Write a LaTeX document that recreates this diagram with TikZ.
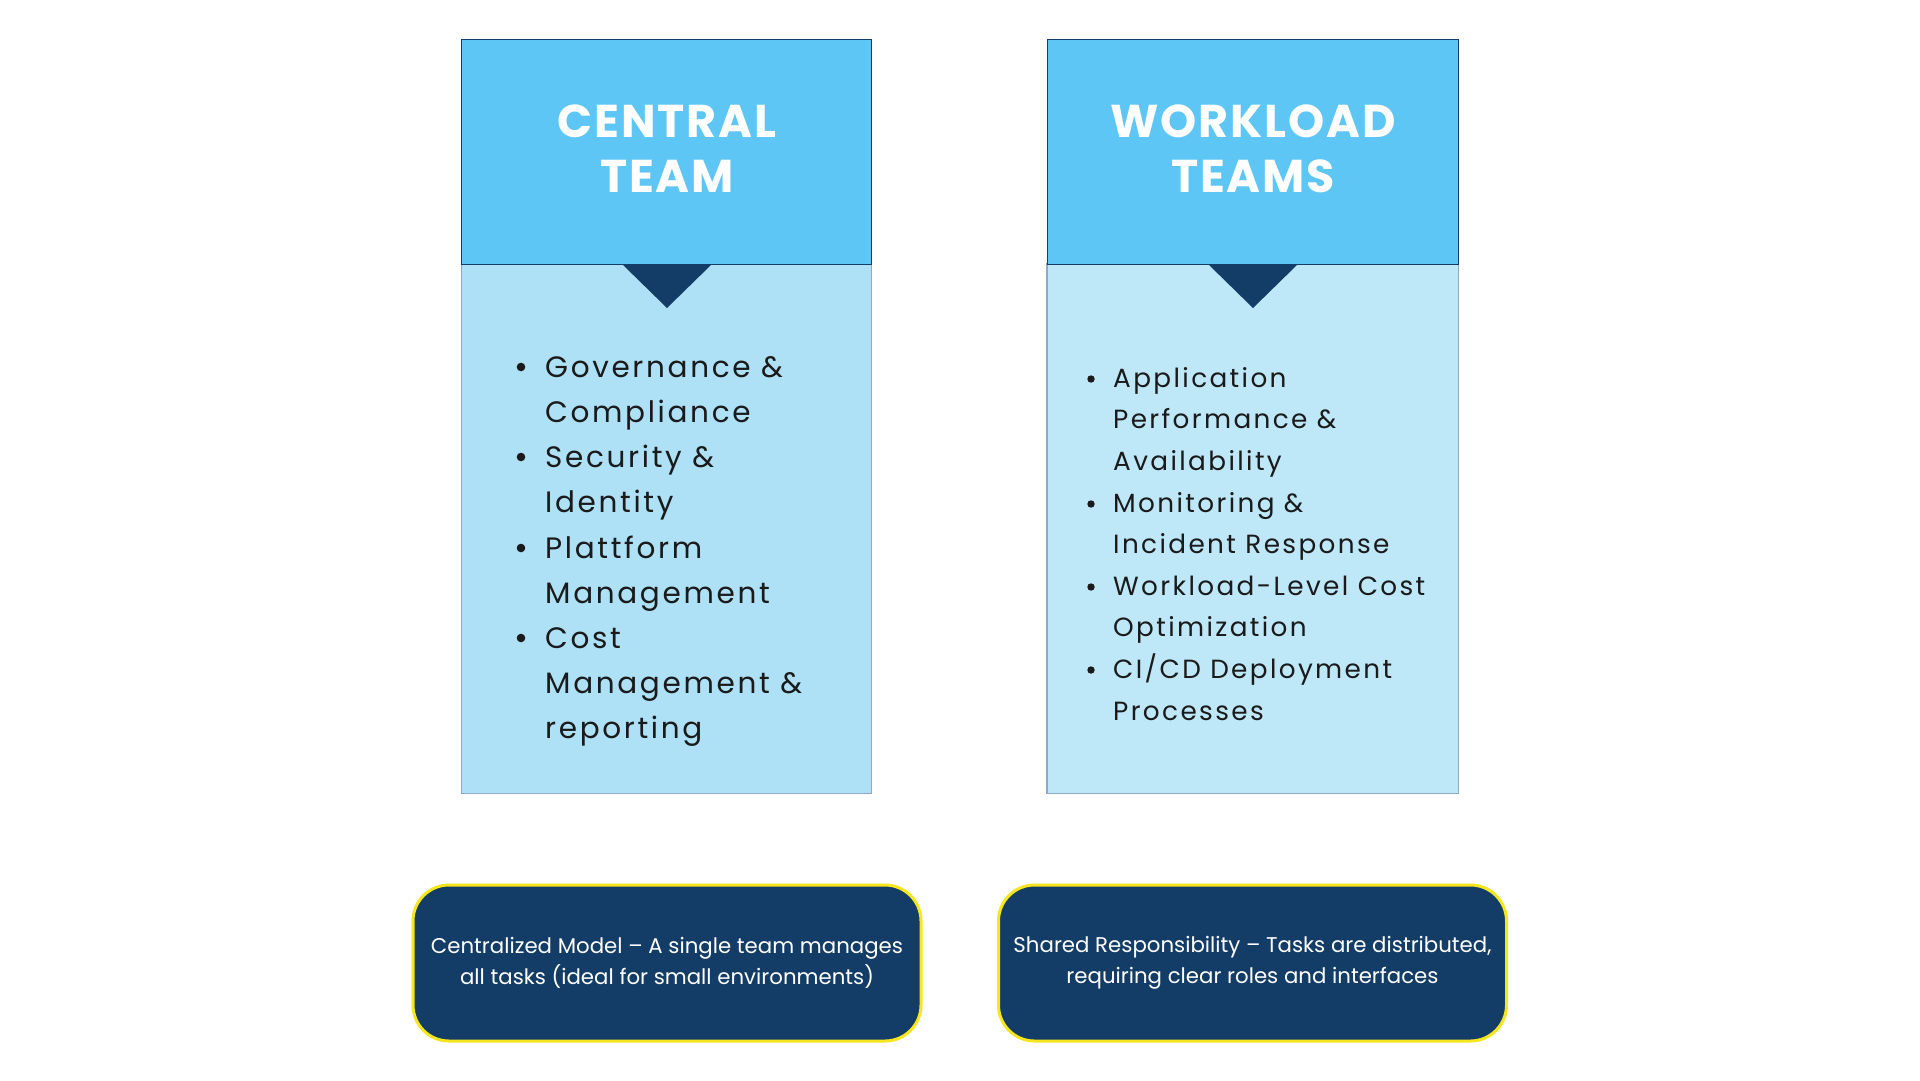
\documentclass[tikz,border=0pt]{standalone}
\usepackage{fontspec}
\setmainfont{Poppins}
\newfontfamily\headfont{Poppins}[LetterSpace=4]
\newfontfamily\bodyfont{Poppins}[LetterSpace=9]
\newfontfamily\notefont{Poppins}
\definecolor{headblue}{HTML}{5EC6F4}
\definecolor{bodyleft}{HTML}{AEE1F6}
\definecolor{bodyright}{HTML}{BEE7F8}
\definecolor{navy}{HTML}{133C66}
\definecolor{bodyedge}{HTML}{8FAAC6}
\definecolor{noteedge}{HTML}{F7E51E}
\definecolor{ink}{HTML}{1A1A1A}
\begin{document}
\begin{tikzpicture}[x=1pt,y=-1pt,
  header/.style={fill=headblue,draw=navy,line width=1pt},
  body/.style={draw=bodyedge,line width=1.2pt},
  tri/.style={fill=navy},
  headtxt/.style={anchor=base,inner sep=0pt,text=white,font=\headfont\bfseries\fontsize{46}{50}\selectfont},
  lline/.style={anchor=base west,inner sep=0pt,text=ink,font=\bodyfont\fontsize{29.5}{34}\selectfont},
  rline/.style={anchor=base west,inner sep=0pt,text=ink,font=\bodyfont\fontsize{26.3}{30}\selectfont},
  lbul/.style={circle,fill=ink,inner sep=0pt,minimum size=8.6pt},
  rbul/.style={circle,fill=ink,inner sep=0pt,minimum size=7.4pt},
  note/.style={fill=navy,draw=noteedge,line width=3pt,rounded corners=36pt,
    minimum width=508pt,minimum height=156pt,align=center,text=white,
    font=\notefont\fontsize{21.3}{31}\selectfont}
]
\useasboundingbox[fill=white] (0,0) rectangle (1920,1080);

% ---- left column
\draw[body,fill=bodyleft] (461.5,264) rectangle (871.5,793.5);
\draw[header] (461.5,39) rectangle (871.5,264);
\fill[tri] (622,264) -- (712,264) -- (667,308) -- cycle;
\node[headtxt] (lh1) at (667,137) {CENTRAL};
\node[headtxt] (lh2) at (667,192) {TEAM};

\node[lbul] (lb1) at (521,367) {};
\node[lline] (l1) at (545,377) {Governance \&};
\node[lline] (l2) at (545,422) {Compliance};
\node[lbul] (lb2) at (521,457) {};
\node[lline] (l3) at (545,467) {Security \&};
\node[lline] (l4) at (545,512) {Identity};
\node[lbul] (lb3) at (521,548) {};
\node[lline] (l5) at (545,558) {Plattform};
\node[lline] (l6) at (545,603) {Management};
\node[lbul] (lb4) at (521,638) {};
\node[lline] (l7) at (545,648) {Cost};
\node[lline] (l8) at (545,693) {Management \&};
\node[lline] (l9) at (545,738) {reporting};

% ---- right column
\draw[body,fill=bodyright] (1047,264) rectangle (1458.5,793.5);
\draw[header] (1047,39) rectangle (1458.5,264);
\fill[tri] (1208,264) -- (1298,264) -- (1253,308) -- cycle;
\node[headtxt] (rh1) at (1253,137) {WORKLOAD};
\node[headtxt] (rh2) at (1253,192) {TEAMS};

\node[rbul] (rb1) at (1091,379) {};
\node[rline] (r1) at (1113,387) {Application};
\node[rline] (r2) at (1113,428) {Performance \&};
\node[rline] (r3) at (1113,470) {Availability};
\node[rbul] (rb2) at (1091,504) {};
\node[rline] (r4) at (1113,512) {Monitoring \&};
\node[rline] (r5) at (1113,553) {Incident Response};
\node[rbul] (rb3) at (1091,587) {};
\node[rline] (r6) at (1113,595) {Workload-Level Cost};
\node[rline] (r7) at (1113,636) {Optimization};
\node[rbul] (rb4) at (1091,670) {};
\node[rline] (r8) at (1113,678) {CI/CD Deployment};
\node[rline] (r9) at (1113,720) {Processes};

% ---- notes
\node[note] (n1) at (667,963) {Centralized Model – A single team manages\\all tasks (ideal for small environments)};
\node[note] (n2) at (1252.5,963) {Shared Responsibility – Tasks are distributed,\\requiring clear roles and interfaces};
\end{tikzpicture}
\end{document}
